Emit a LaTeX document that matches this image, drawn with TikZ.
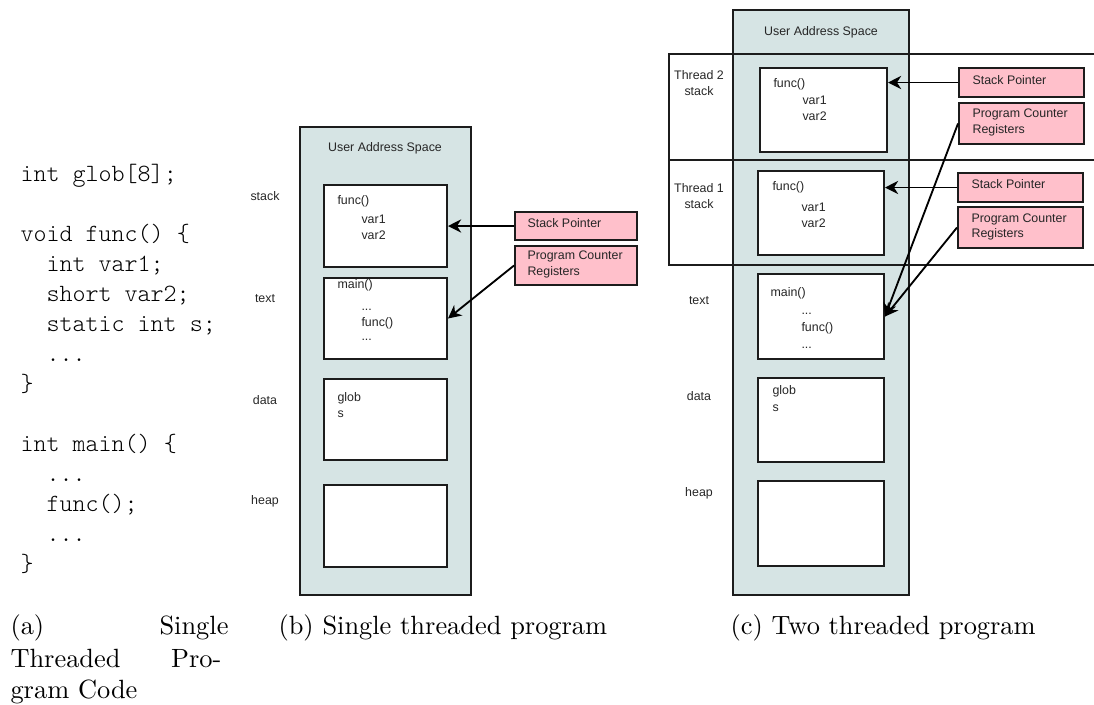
\documentclass[tikz,border=0pt]{standalone}
\usepackage{fontspec}
\newfontfamily\codefont{Latin Modern Mono Light}
\newfontfamily\labfont{Liberation Sans}
\usetikzlibrary{fit,arrows.meta}
\definecolor{spacefill}{RGB}{214,228,228}
\definecolor{regfill}{RGB}{255,192,203}
\definecolor{edge}{RGB}{28,28,28}
\tikzset{
  space/.style={draw=edge, fill=spacefill, line width=0.75pt, inner sep=0pt},
  seg/.style={draw=edge, fill=white, line width=0.75pt, inner sep=0pt},
  reg/.style={draw=edge, fill=regfill, line width=0.75pt, inner sep=0pt},
  lab/.style={font=\labfont\fontsize{4.7}{5.6}\selectfont, text=black!85, inner sep=0pt},
  lt/.style={lab, anchor=base west},
  lc/.style={lab, anchor=base},
  code/.style={font=\codefont\fontsize{9.4}{11}\selectfont, anchor=base west, inner sep=0pt},
  captext/.style={font=\fontsize{10}{12}\selectfont, inner sep=0pt},
  ptr/.style={-{Stealth[length=5pt,width=5pt,inset=1.6pt]}, line width=0.7pt, draw=black},
  band/.style={draw=edge, line width=0.65pt},
}
\begin{document}
\begin{tikzpicture}[x=0.379pt,y=-0.379pt]
\useasboundingbox (0,0) rectangle (1094,704);

% ---------- (a) source code ----------
\node[code] (c1)  at (20,181.7) {int glob[8];};
\node[code] (c2)  at (20,241.7) {void func() \{};
\node[code] (c3)  at (46,271.7) {int var1;};
\node[code] (c4)  at (46,301.7) {short var2;};
\node[code] (c5)  at (46,331.7) {static int s;};
\node[code] (c6)  at (46,361.7) {...};
\node[code] (c7)  at (20,391.7) {\}};
\node[code] (c8)  at (20,451.7) {int main() \{};
\node[code] (c9)  at (46,481.7) {...};
\node[code] (c10) at (46,511.7) {func();};
\node[code] (c11) at (46,541.7) {...};
\node[code] (c12) at (20,571.7) {\}};

% ---------- (b) single threaded address space ----------
\node[space, fit={(300,127) (471,595)}] (bspace) {};
\node[lc] (btitle) at (385,151) {User Address Space};
\node[seg, fit={(324,185) (447,267)}] (bstack) {};
\node[seg, fit={(324,278) (447,359)}] (btext) {};
\node[seg, fit={(324,379) (447,460)}] (bdata) {};
\node[seg, fit={(324,485) (447,567)}] (bheap) {};
\node[lc] (blstack) at (265,200) {stack};
\node[lc] (bltext)  at (265,302) {text};
\node[lc] (bldata)  at (265,404) {data};
\node[lc] (blheap)  at (265,504) {heap};
\node[lt] (bs1) at (337,204) {func()};
\node[lt] (bs2) at (361,223) {var1};
\node[lt] (bs3) at (361,239) {var2};
\node[lt] (bt1) at (337,288) {main()};
\node[lt] (bt2) at (361,310) {...};
\node[lt] (bt3) at (361,326) {func()};
\node[lt] (bt4) at (361,340) {...};
\node[lt] (bd1) at (337,401) {glob};
\node[lt] (bd2) at (337,417) {s};
\node[reg, fit={(515,212) (637,240)}] (bsp) {};
\node[lt] (bspt) at (527,227) {Stack Pointer};
\node[reg, fit={(515,246) (637,285)}] (bpc) {};
\node[lt] (bpct1) at (527,259) {Program Counter};
\node[lt] (bpct2) at (527,275) {Registers};
\draw[ptr] (bsp.west) -- (bsp.west -| bstack.east);
\draw[ptr] (bpc.west) -- (btext.east);

% ---------- (c) two threaded address space ----------
\node[space, fit={(733,10) (909,595)}] (cspace) {};
\node[lc] (ctitle) at (821,35) {User Address Space};
\draw[band] (1094,54) -| (669,160) -- (1094,160);
\draw[band] (669,160) |- (1094,265);
\node[seg, fit={(760,68) (887,152)}] (ct2) {};
\node[seg, fit={(758,171) (884,255)}] (ct1) {};
\node[seg, fit={(758,274) (884,359)}] (ctext) {};
\node[seg, fit={(758,378) (884,462)}] (cdata) {};
\node[seg, fit={(758,481) (884,566)}] (cheap) {};
\node[lc] (cl2a) at (699,79)  {Thread 2};
\node[lc] (cl2b) at (699,95)  {stack};
\node[lc] (cl1a) at (699,192) {Thread 1};
\node[lc] (cl1b) at (699,208) {stack};
\node[lc] (cltext) at (699,304) {text};
\node[lc] (cldata) at (699,400) {data};
\node[lc] (clheap) at (699,496) {heap};
\node[lt] (c2s1) at (773,87)  {func()};
\node[lt] (c2s2) at (802,104) {var1};
\node[lt] (c2s3) at (802,120) {var2};
\node[lt] (c1s1) at (772,190) {func()};
\node[lt] (c1s2) at (801,211) {var1};
\node[lt] (c1s3) at (801,227) {var2};
\node[lt] (ct1t) at (770,296) {main()};
\node[lt] (ct2t) at (801,314) {...};
\node[lt] (ct3t) at (801,331) {func()};
\node[lt] (ct4t) at (801,348) {...};
\node[lt] (cd1) at (772,394) {glob};
\node[lt] (cd2) at (772,411) {s};
\node[reg, fit={(959,68) (1084,97)}] (csp2) {};
\node[lt] (csp2t) at (972,84) {Stack Pointer};
\node[reg, fit={(959,103) (1084,144)}] (cpc2) {};
\node[lt] (cpc2a) at (972,117) {Program Counter};
\node[lt] (cpc2b) at (972,133) {Registers};
\node[reg, fit={(958,173) (1083,202)}] (csp1) {};
\node[lt] (csp1t) at (971,188) {Stack Pointer};
\node[reg, fit={(958,207) (1083,248)}] (cpc1) {};
\node[lt] (cpc1a) at (971,222) {Program Counter};
\node[lt] (cpc1b) at (971,237) {Registers};
\draw[ptr] (csp2.west) -- (csp2.west -| ct2.east);
\draw[ptr] (csp1.west) -- (csp1.west -| ct1.east);
\draw[ptr] (cpc2.west) -- (ctext.east);
\draw[ptr] (cpc1.west) -- (ctext.east);

% ---------- captions ----------
\node[captext, anchor=base west] (capa1) at (10,634) {(a)};
\node[captext, anchor=base east] (capa2) at (229,634) {Single};
\node[captext, anchor=base west] (capa3) at (10,667) {Threaded};
\node[captext, anchor=base east] (capa4) at (222,667) {Pro-};
\node[captext, anchor=base west] (capa5) at (10,698) {gram Code};
\node[captext, anchor=base west] (capb) at (278,634) {(b) Single threaded program};
\node[captext, anchor=base west] (capc) at (730,634) {(c) Two threaded program};
\end{tikzpicture}
\end{document}
